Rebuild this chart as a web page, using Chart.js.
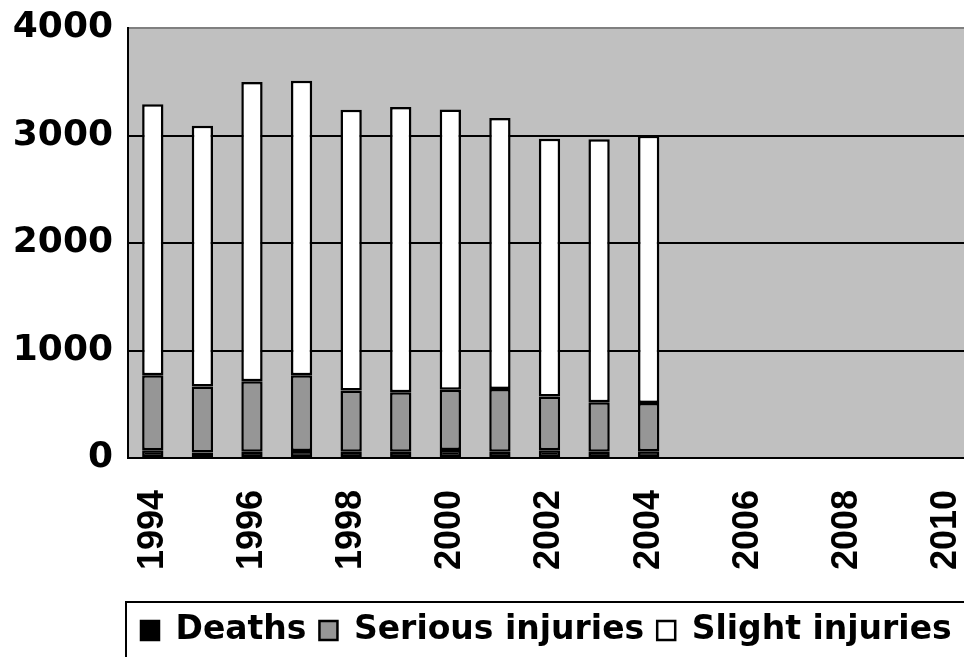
<!DOCTYPE html>
<html>
<head>
<meta charset="utf-8">
<script src="https://cdn.jsdelivr.net/npm/chart.js@4/dist/chart.umd.min.js"></script>
<style>
  html, body { margin: 0; padding: 0; background: #ffffff; overflow: hidden; }
  #c { display: block; }
</style>
</head>
<body>
<canvas id="c" width="975" height="657"></canvas>
<script>
const years = ['1994','1995','1996','1997','1998','1999','2000','2001','2002','2003','2004','2005','2006','2007','2008','2009','2010'];
const deaths =  [71, 52, 59, 65, 59, 59, 74, 59, 71, 59, 62, null, null, null, null, null, null];
const serious = [698, 614, 654, 704, 570, 552, 562, 583, 502, 459, 450, null, null, null, null, null, null];
const slight =  [2521, 2425, 2785, 2741, 2611, 2654, 2607, 2521, 2397, 2446, 2486, null, null, null, null, null, null];
const yTicks = [0, 1000, 2000, 3000, 4000];

const SANS = "'Liberation Sans', Arial, sans-serif";
const WIDE = "'DejaVu Sans', Verdana, sans-serif";

const plotBg = {
  id: 'plotBg',
  beforeDraw(chart) {
    const {ctx, chartArea: a} = chart;
    ctx.save();
    ctx.fillStyle = '#c0c0c0';
    ctx.fillRect(a.left, a.top, a.right - a.left, a.bottom - a.top);
    ctx.restore();
  },
  afterDraw(chart) {
    const lg = chart.legend;
    const {ctx, chartArea: a} = chart;
    ctx.save();
    ctx.strokeStyle = '#000';
    ctx.lineWidth = 2;
    ctx.strokeRect(a.left - 2, lg.top + 1, chart.width + 20, 200);
    ctx.restore();
  }
};

new Chart(document.getElementById('c'), {
  type: 'bar',
  data: {
    labels: years,
    datasets: [
      { label: 'Deaths', data: deaths, backgroundColor: '#000000', borderColor: '#000000', borderWidth: 2.5 },
      { label: 'Serious injuries', data: serious, backgroundColor: '#969696', borderColor: '#000000', borderWidth: 2.5 },
      { label: 'Slight injuries', data: slight, backgroundColor: '#ffffff', borderColor: '#000000', borderWidth: 2.5 }
    ]
  },
  options: {
    responsive: false,
    animation: false,
    layout: { padding: { top: 28, right: 4, left: 0, bottom: 0 } },
    datasets: { bar: { barPercentage: 0.86, categoryPercentage: 0.5, borderSkipped: false } },
    scales: {
      x: {
        stacked: true,
        afterFit(scale) { scale.height = 143; scale.paddingLeft = 0; scale.paddingRight = 0; },
        grid: { display: false, drawTicks: false },
        border: { display: true, color: '#000000', width: 2 },
        ticks: {
          autoSkip: false,
          minRotation: 90,
          maxRotation: 90,
          padding: 32,
          color: '#000000',
          font: { family: SANS, size: 36, weight: 'bold' },
          callback: function(v, i) { return (i % 2 === 0) ? years[i] : ''; }
        }
      },
      y: {
        stacked: true,
        min: 0,
        max: 4000,
        afterFit(scale) { scale.width = 128; scale.paddingTop = 0; scale.paddingBottom = 0; },
        afterBuildTicks(scale) { scale.ticks = yTicks.map(v => ({ value: v })); },
        grid: {
          drawTicks: false,
          color: (c) => c.tick && c.tick.value === 4000 ? '#808080' : '#000000',
          lineWidth: 2
        },
        border: { display: true, color: '#000000', width: 2 },
        ticks: {
          padding: 15,
          color: '#000000',
          font: { family: WIDE, size: 36, weight: 'bold' },
          callback: (v) => String(v)
        }
      }
    },
    plugins: {
      tooltip: { enabled: false },
      legend: {
        position: 'bottom',
        align: 'start',
        fullSize: false,
        labels: {
          boxWidth: 18,
          boxHeight: 19,
          padding: 13,
          color: '#000000',
          font: { family: WIDE, size: 33, weight: 'bold' }
        }
      }
    }
  },
  plugins: [plotBg]
});
</script>
</body>
</html>
